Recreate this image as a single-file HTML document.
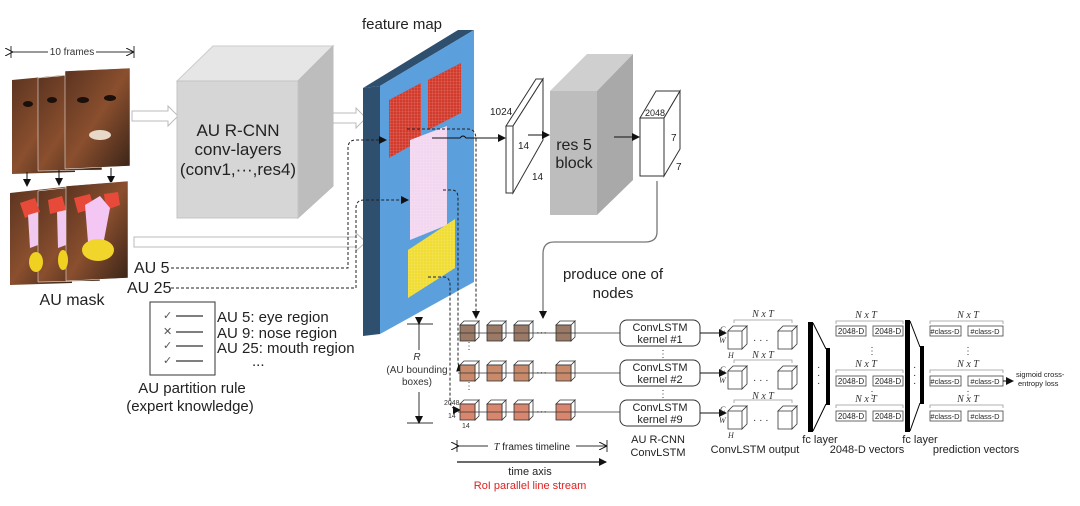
<!DOCTYPE html>
<html><head><meta charset="utf-8"><style>
html,body{margin:0;padding:0;background:#fff;}
svg{display:block;font-family:"Liberation Sans",sans-serif;}
</style></head><body>
<svg width="1080" height="506" viewBox="0 0 1080 506" xmlns="http://www.w3.org/2000/svg">
<defs>
<marker id="ah" markerWidth="8" markerHeight="8" refX="7" refY="4" orient="auto" markerUnits="userSpaceOnUse"><path d="M0,0 L8,4 L0,8 z" fill="#111"/></marker>
<marker id="ao" markerWidth="8" markerHeight="8" refX="7" refY="4" orient="auto" markerUnits="userSpaceOnUse"><path d="M0,0 L8,4 L0,8" fill="none" stroke="#111"/></marker>
<pattern id="grid" width="3" height="3" patternUnits="userSpaceOnUse"><path d="M3,0 L0,0 0,3" fill="none" stroke="rgba(255,255,255,0.35)" stroke-width="0.6"/></pattern>
<linearGradient id="face" x1="0" y1="0" x2="1" y2="1"><stop offset="0" stop-color="#5a3320"/><stop offset="0.5" stop-color="#8a4f2e"/><stop offset="1" stop-color="#3a2418"/></linearGradient>
</defs>

<!-- 10 frames -->
<text x="72" y="55" font-size="10" text-anchor="middle" fill="#333">10 frames</text>
<line x1="12" y1="52" x2="48" y2="52" stroke="#333" marker-start="url(#ao)"/>
<line x1="96" y1="52" x2="133" y2="52" stroke="#333" marker-end="url(#ao)"/>
<line x1="11" y1="46" x2="11" y2="58" stroke="#333"/><line x1="134" y1="46" x2="134" y2="58" stroke="#333"/>

<!-- faces -->
<polygon points="12,80 75,74 75,172 12,174" fill="url(#face)"/>
<polygon points="38,78 102,72 102,170 38,171" fill="url(#face)" stroke="#fff" stroke-width="0.5"/>
<polygon points="65,71 130,68 130,166 65,169" fill="url(#face)" stroke="#fff" stroke-width="0.5"/>
<ellipse cx="28" cy="104" rx="5" ry="3" fill="#1a0f0a"/><ellipse cx="52" cy="100" rx="5" ry="3" fill="#1a0f0a"/>
<ellipse cx="83" cy="100" rx="6" ry="3" fill="#1a0f0a"/><ellipse cx="110" cy="98" rx="6" ry="3" fill="#1a0f0a"/>
<ellipse cx="100" cy="135" rx="11" ry="5" fill="#e8d8c8"/>
<!-- arrows down -->
<line x1="27" y1="172" x2="27" y2="186" stroke="#111" marker-end="url(#ah)"/>
<line x1="59" y1="170" x2="59" y2="185" stroke="#111" marker-end="url(#ah)"/>
<line x1="111" y1="168" x2="111" y2="183" stroke="#111" marker-end="url(#ah)"/>
<!-- masks -->
<polygon points="10,193 72,186 72,283 10,285" fill="url(#face)"/>
<polygon points="38,191 100,184 100,281 38,282" fill="url(#face)" stroke="#fff" stroke-width="0.5"/>
<polygon points="66,186 128,181 128,278 66,281" fill="url(#face)" stroke="#fff" stroke-width="0.5"/>
<polygon points="20,203 35,198 40,212 25,218" fill="#e84a3a"/><polygon points="48,200 62,196 66,210 50,214" fill="#e84a3a"/>
<polygon points="74,198 90,194 94,208 78,213" fill="#e84a3a"/><polygon points="104,194 118,192 120,205 106,210" fill="#e84a3a"/>
<polygon points="28,215 38,212 38,245 30,248" fill="#f0c8f0"/><polygon points="57,212 66,210 66,245 58,248" fill="#f0c8f0"/>
<polygon points="85,205 100,196 110,208 104,240 88,242" fill="#f4c6f4"/>
<ellipse cx="36" cy="262" rx="7" ry="10" fill="#f0d020"/><ellipse cx="63" cy="260" rx="5" ry="10" fill="#f0d020"/>
<ellipse cx="98" cy="250" rx="16" ry="11" fill="#f2d52a"/>
<text x="72" y="305" font-size="16" text-anchor="middle" fill="#222">AU mask</text>

<!-- hollow arrows -->
<polygon points="132,111 168,111 168,106 178,116 168,126 168,121 132,121" fill="#fff" stroke="#bbb"/>
<polygon points="333,113 356,113 356,108 366,118 356,128 356,123 333,123" fill="#fff" stroke="#bbb"/>
<polygon points="134,237 356,237 356,233 366,242 356,251 356,247 134,247" fill="#fff" stroke="#bbb"/>

<!-- AU R-CNN cube -->
<polygon points="177,81 213,46 333,46 298,81" fill="#e6e6e6" stroke="#ccc"/>
<polygon points="298,81 333,46 333,186 298,218" fill="#bdbdbd" stroke="#bbb"/>
<rect x="177" y="81" width="121" height="137" fill="#d6d6d6" stroke="#c4c4c4"/>
<text x="238" y="136" font-size="17" text-anchor="middle" fill="#222">AU R-CNN</text>
<text x="238" y="155" font-size="17" text-anchor="middle" fill="#222">conv-layers</text>
<text x="238" y="175" font-size="17" text-anchor="middle" fill="#222">(conv1,···,res4)</text>

<!-- feature map -->
<text x="402" y="29" font-size="15" text-anchor="middle" fill="#222">feature map</text>
<polygon points="363,88 458,30 474,30 380,86" fill="#2f4f6f"/>
<polygon points="363,88 380,86 380,334 363,336" fill="#2f4f6f"/>
<polygon points="380,86 474,30 474,282 380,334" fill="#5b9fdc"/>
<polygon points="389,100 421,83 421,140 389,158" fill="#d23a2c"/><polygon points="389,100 421,83 421,140 389,158" fill="url(#grid)"/>
<polygon points="428,80 461,63 461,113 428,130" fill="#d23a2c"/><polygon points="428,80 461,63 461,113 428,130" fill="url(#grid)"/>
<polygon points="410,140 447,126 447,225 410,240" fill="#f3d6ef"/><polygon points="410,140 447,126 447,225 410,240" fill="url(#grid)"/>
<polygon points="408,250 455,219 455,268 408,298" fill="#f0dc32"/><polygon points="408,250 455,219 455,268 408,298" fill="url(#grid)"/>

<!-- AU labels and dashed -->
<text x="134" y="273" font-size="16" fill="#222">AU 5</text>
<text x="127" y="293" font-size="16" fill="#222">AU 25</text>
<g fill="none" stroke="#222" stroke-dasharray="3,2" stroke-width="1">
<path d="M171,268 H348 V148 Q348,140 356,140 H386" marker-end="url(#ah)"/>
<path d="M171,288 H356 V208 Q356,200 364,200 H408" marker-end="url(#ah)"/>
<path d="M407,129 H468 Q476,129 476,140 V318" marker-end="url(#ah)"/>
<path d="M443,190 H452 Q458,190 458,198 V362 Q458,368 464,370" marker-end="url(#ah)"/>
<path d="M428,277 H444 Q450,277 450,285 V400 Q450,410 460,410" marker-end="url(#ah)"/>
</g>
<path d="M432,138 H460 q3,-4 6,0 H505" fill="none" stroke="#111" marker-end="url(#ah)"/>

<!-- slab 1024 -->
<polygon points="506,126 536,79 543,79 513,126" fill="#fff" stroke="#333"/>
<polygon points="513,126 543,79 543,140 513,193" fill="#fff" stroke="#333"/>
<rect x="506" y="126" width="7" height="67" fill="#fff" stroke="#333"/>
<text x="490" y="115" font-size="10" fill="#222">1024</text>
<text x="518" y="149" font-size="10" fill="#222">14</text>
<text x="532" y="180" font-size="10" fill="#222">14</text>
<line x1="528" y1="135" x2="549" y2="135" stroke="#111" marker-end="url(#ah)"/>

<!-- res5 -->
<polygon points="550,91 587,54 633,54 597,91" fill="#cfcfcf"/>
<polygon points="597,91 633,54 633,180 597,215" fill="#a9a9a9"/>
<rect x="550" y="91" width="47" height="124" fill="#bdbdbd"/>
<text x="574" y="150" font-size="16" text-anchor="middle" fill="#222">res 5</text>
<text x="574" y="168" font-size="16" text-anchor="middle" fill="#222">block</text>
<line x1="614" y1="137" x2="639" y2="137" stroke="#111" marker-end="url(#ah)"/>

<!-- 2048 cube -->
<polygon points="640,118 656,91 680,91 664,118" fill="#fff" stroke="#333"/>
<polygon points="664,118 680,91 680,149 664,176" fill="#fff" stroke="#333"/>
<rect x="640" y="118" width="24" height="58" fill="#fff" stroke="#333"/>
<text x="645" y="116" font-size="9" fill="#222">2048</text>
<text x="671" y="141" font-size="10" fill="#222">7</text>
<text x="676" y="170" font-size="10" fill="#222">7</text>

<path d="M657,181 V232 Q657,242 645,242 H554 Q543,242 543,254 V318" fill="none" stroke="#777" stroke-width="1.3" marker-end="url(#ah)"/>
<text x="613" y="279" font-size="15" text-anchor="middle" fill="#222">produce one of</text>
<text x="613" y="298" font-size="15" text-anchor="middle" fill="#222">nodes</text>

<!-- rule box -->
<rect x="150" y="302" width="65" height="73" fill="#fff" stroke="#333"/>
<g stroke="#333" stroke-width="1.2"><line x1="176" y1="316" x2="203" y2="316"/><line x1="176" y1="332" x2="203" y2="332"/><line x1="176" y1="346" x2="203" y2="346"/><line x1="176" y1="361" x2="203" y2="361"/></g>
<g font-size="11" fill="#555"><text x="163" y="319">✓</text><text x="163" y="335">✕</text><text x="163" y="349">✓</text><text x="163" y="364">✓</text></g>
<g font-size="15" fill="#222"><text x="217" y="322">AU 5: eye region</text><text x="217" y="338">AU 9: nose region</text><text x="217" y="353">AU 25: mouth region</text><text x="252" y="366">...</text></g>
<text x="192" y="393" font-size="15" text-anchor="middle" fill="#222">AU partition rule</text>
<text x="190" y="411" font-size="15" text-anchor="middle" fill="#222">(expert knowledge)</text>

<!-- R bounding -->
<line x1="407" y1="324" x2="433" y2="324" stroke="#333"/><line x1="407" y1="423" x2="433" y2="423" stroke="#333"/>
<line x1="419" y1="324" x2="419" y2="350" stroke="#333" marker-start="url(#ah)"/>
<line x1="419" y1="392" x2="419" y2="423" stroke="#333" marker-end="url(#ah)"/>
<text x="417" y="360" font-size="10" font-style="italic" text-anchor="middle" fill="#333">R</text>
<text x="417" y="373" font-size="10" text-anchor="middle" fill="#333">(AU bounding</text>
<text x="417" y="385" font-size="10" text-anchor="middle" fill="#333">boxes)</text>

<!-- frame rows -->
<g id="rows" stroke="#333" stroke-width="0.8">
<g fill="#fff">
<path d="M460,325 l4,-4 h15 l-4,4z M475,325 l4,-4 v16 l-4,4z"/>
<path d="M487,325 l4,-4 h15 l-4,4z M502,325 l4,-4 v16 l-4,4z"/>
<path d="M514,325 l4,-4 h15 l-4,4z M529,325 l4,-4 v16 l-4,4z"/>
<path d="M556,325 l4,-4 h15 l-4,4z M571,325 l4,-4 v16 l-4,4z"/>
<path d="M460,365 l4,-4 h15 l-4,4z M475,365 l4,-4 v16 l-4,4z"/>
<path d="M487,365 l4,-4 h15 l-4,4z M502,365 l4,-4 v16 l-4,4z"/>
<path d="M514,365 l4,-4 h15 l-4,4z M529,365 l4,-4 v16 l-4,4z"/>
<path d="M556,365 l4,-4 h15 l-4,4z M571,365 l4,-4 v16 l-4,4z"/>
<path d="M460,404 l4,-4 h15 l-4,4z M475,404 l4,-4 v16 l-4,4z"/>
<path d="M487,404 l4,-4 h15 l-4,4z M502,404 l4,-4 v16 l-4,4z"/>
<path d="M514,404 l4,-4 h15 l-4,4z M529,404 l4,-4 v16 l-4,4z"/>
<path d="M556,404 l4,-4 h15 l-4,4z M571,404 l4,-4 v16 l-4,4z"/>
</g>
<g fill="#9a7a66"><rect x="460" y="325" width="15" height="16"/><rect x="487" y="325" width="15" height="16"/><rect x="514" y="325" width="15" height="16"/><rect x="556" y="325" width="15" height="16"/></g>
<g fill="#c88a6a"><rect x="460" y="365" width="15" height="16"/><rect x="487" y="365" width="15" height="16"/><rect x="514" y="365" width="15" height="16"/><rect x="556" y="365" width="15" height="16"/></g>
<g fill="#d9866e"><rect x="460" y="404" width="15" height="16"/><rect x="487" y="404" width="15" height="16"/><rect x="514" y="404" width="15" height="16"/><rect x="556" y="404" width="15" height="16"/></g>
<line x1="458" y1="333" x2="620" y2="333"/><line x1="458" y1="373" x2="620" y2="373"/><line x1="458" y1="412" x2="620" y2="412"/>
</g>
<g font-size="11" fill="#222"><text x="536" y="336">···</text><text x="536" y="376">···</text><text x="536" y="415">···</text></g>
<g font-size="10" fill="#444"><text x="464" y="349">⋮</text><text x="464" y="389">⋮</text></g>
<text x="444" y="405" font-size="7" fill="#333">2048</text><text x="448" y="418" font-size="7" fill="#333">14</text><text x="462" y="428" font-size="7" fill="#333">14</text>

<!-- ConvLSTM boxes -->
<g fill="#fff" stroke="#333"><rect x="620" y="320" width="80" height="26" rx="7"/><rect x="620" y="360" width="80" height="26" rx="7"/><rect x="620" y="400" width="80" height="26" rx="7"/></g>
<g font-size="11" text-anchor="middle" fill="#222">
<text x="660" y="331">ConvLSTM</text><text x="660" y="343">kernel #1</text>
<text x="660" y="371">ConvLSTM</text><text x="660" y="383">kernel #2</text>
<text x="660" y="411">ConvLSTM</text><text x="660" y="423">kernel #9</text>
<text x="658" y="443">AU R-CNN</text><text x="658" y="456">ConvLSTM</text>
</g>
<g font-size="10" fill="#444"><text x="658" y="357">⋮</text><text x="658" y="397">⋮</text></g>
<g stroke="#111"><line x1="700" y1="333" x2="726" y2="333" marker-end="url(#ah)"/><line x1="700" y1="373" x2="726" y2="373" marker-end="url(#ah)"/><line x1="700" y1="413" x2="726" y2="413" marker-end="url(#ah)"/></g>

<!-- ConvLSTM output cubes -->
<g fill="#fff" stroke="#333" stroke-width="0.8">
<path d="M728,331 l5,-5 h14 l-5,5z M742,331 l5,-5 v18 l-5,5z M728,331 h14 v18 h-14z"/>
<path d="M778,331 l5,-5 h14 l-5,5z M792,331 l5,-5 v18 l-5,5z M778,331 h14 v18 h-14z"/>
<path d="M728,371 l5,-5 h14 l-5,5z M742,371 l5,-5 v18 l-5,5z M728,371 h14 v18 h-14z"/>
<path d="M778,371 l5,-5 h14 l-5,5z M792,371 l5,-5 v18 l-5,5z M778,371 h14 v18 h-14z"/>
<path d="M728,411 l5,-5 h14 l-5,5z M742,411 l5,-5 v18 l-5,5z M728,411 h14 v18 h-14z"/>
<path d="M778,411 l5,-5 h14 l-5,5z M792,411 l5,-5 v18 l-5,5z M778,411 h14 v18 h-14z"/>
</g>
<g font-size="10" fill="#222"><text x="753" y="343">· · ·</text><text x="753" y="383">· · ·</text><text x="753" y="423">· · ·</text></g>
<g font-size="8" font-style="italic" font-family="Liberation Serif" fill="#333">
<text x="720" y="332">C</text><text x="719" y="343">W</text><text x="728" y="358">H</text>
<text x="720" y="372">C</text><text x="719" y="383">W</text>
<text x="720" y="412">C</text><text x="719" y="423">W</text><text x="728" y="438">H</text>
</g>
<g font-size="10" font-style="italic" font-family="Liberation Serif" fill="#333" text-anchor="middle">
<text x="763" y="317">N x T</text><text x="763" y="358">N x T</text><text x="763" y="399">N x T</text>
<text x="866" y="318">N x T</text><text x="866" y="367">N x T</text><text x="866" y="402">N x T</text>
<text x="968" y="318">N x T</text><text x="968" y="367">N x T</text><text x="968" y="402">N x T</text>
</g>
<g fill="none" stroke="#999" stroke-width="0.8">
<path d="M734,323 v-3 h58 v3"/><path d="M734,363 v-3 h58 v3"/><path d="M734,403 v-3 h58 v3"/>
<path d="M836,324 v-3 h67 v3"/><path d="M836,373 v-3 h67 v3"/><path d="M836,408 v-3 h67 v3"/>
<path d="M930,324 v-3 h73 v3"/><path d="M930,373 v-3 h73 v3"/><path d="M930,408 v-3 h73 v3"/>
</g>

<!-- fc layer 1 -->
<rect x="808" y="322" width="5" height="110" fill="#000"/>
<rect x="826" y="348" width="4" height="57" fill="#000"/>
<line x1="813" y1="323" x2="826" y2="349" stroke="#000"/><line x1="813" y1="431" x2="826" y2="404" stroke="#000"/>
<text x="817" y="370" font-size="10" fill="#222">·</text><text x="817" y="378" font-size="10" fill="#222">·</text><text x="817" y="386" font-size="10" fill="#222">·</text>
<text x="820" y="443" font-size="11" text-anchor="middle" fill="#222">fc layer</text>
<text x="755" y="453" font-size="11" text-anchor="middle" fill="#222">ConvLSTM output</text>

<g fill="#fff" stroke="#444" stroke-width="0.8">
<rect x="836" y="326" width="30" height="10"/><rect x="873" y="326" width="30" height="10"/>
<rect x="836" y="376" width="30" height="10"/><rect x="873" y="376" width="30" height="10"/>
<rect x="836" y="411" width="30" height="10"/><rect x="873" y="411" width="30" height="10"/>
</g>
<g font-size="8" fill="#222" text-anchor="middle">
<text x="851" y="334">2048-D</text><text x="888" y="334">2048-D</text>
<text x="851" y="384">2048-D</text><text x="888" y="384">2048-D</text>
<text x="851" y="419">2048-D</text><text x="888" y="419">2048-D</text>
</g>
<g font-size="10" fill="#444"><text x="867" y="354">⋮</text><text x="867" y="398">⋮</text></g>
<text x="867" y="453" font-size="11" text-anchor="middle" fill="#222">2048-D vectors</text>

<!-- fc layer 2 -->
<rect x="905" y="320" width="5" height="112" fill="#000"/>
<rect x="920" y="346" width="4" height="58" fill="#000"/>
<line x1="910" y1="321" x2="920" y2="347" stroke="#000"/><line x1="910" y1="431" x2="920" y2="403" stroke="#000"/>
<text x="913" y="370" font-size="10" fill="#222">·</text><text x="913" y="378" font-size="10" fill="#222">·</text><text x="913" y="386" font-size="10" fill="#222">·</text>
<text x="920" y="443" font-size="11" text-anchor="middle" fill="#222">fc layer</text>

<g fill="#fff" stroke="#444" stroke-width="0.8">
<rect x="930" y="326" width="31" height="10"/><rect x="968" y="326" width="35" height="10"/>
<rect x="930" y="376" width="31" height="10"/><rect x="968" y="376" width="35" height="10"/>
<rect x="930" y="411" width="31" height="10"/><rect x="968" y="411" width="35" height="10"/>
</g>
<g font-size="7.5" fill="#222" text-anchor="middle">
<text x="945" y="334">#class-D</text><text x="985" y="334">#class-D</text>
<text x="945" y="384">#class-D</text><text x="985" y="384">#class-D</text>
<text x="945" y="419">#class-D</text><text x="985" y="419">#class-D</text>
</g>
<g font-size="10" fill="#444"><text x="963" y="354">⋮</text><text x="963" y="398">⋮</text></g>
<line x1="1003" y1="381" x2="1013" y2="381" stroke="#111" marker-end="url(#ah)"/>
<text x="1016" y="377" font-size="7.5" fill="#222">sigmoid cross-</text>
<text x="1018" y="386" font-size="7.5" fill="#222">entropy loss</text>
<text x="976" y="453" font-size="11" text-anchor="middle" fill="#222">prediction vectors</text>

<!-- timeline -->
<line x1="457" y1="440" x2="457" y2="452" stroke="#333"/><line x1="607" y1="440" x2="607" y2="452" stroke="#333"/>
<line x1="458" y1="446" x2="488" y2="446" stroke="#333" marker-start="url(#ao)"/>
<line x1="576" y1="446" x2="606" y2="446" stroke="#333" marker-end="url(#ao)"/>
<text x="532" y="450" font-size="10" text-anchor="middle" fill="#222"><tspan font-style="italic" font-family="Liberation Serif">T</tspan>  frames timeline</text>
<line x1="457" y1="462" x2="606" y2="462" stroke="#111" stroke-width="1.2" marker-end="url(#ah)"/>
<text x="530" y="475" font-size="11" text-anchor="middle" fill="#222">time axis</text>
<text x="530" y="489" font-size="11" text-anchor="middle" fill="#e02020">RoI parallel line stream</text>
</svg>
</body></html>
